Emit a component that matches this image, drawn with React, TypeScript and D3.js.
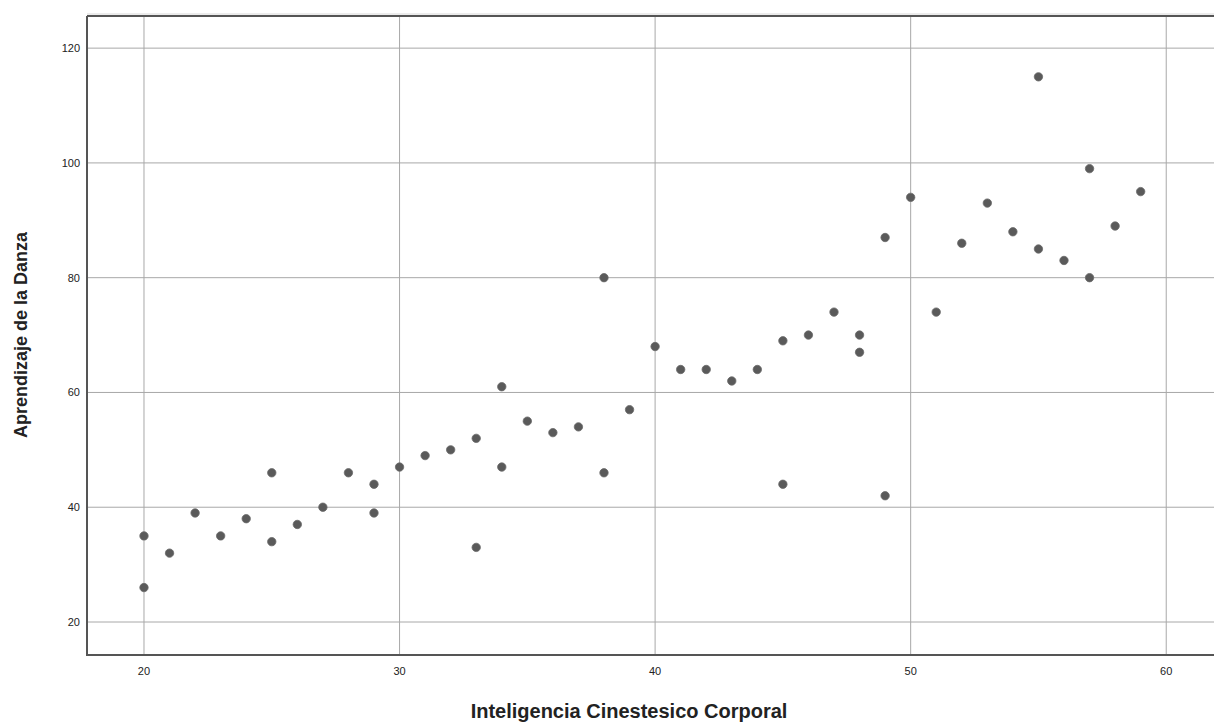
import React from "react";
import * as d3 from "d3";

const xValues = [20, 20, 21, 22, 23, 24, 25, 25, 26, 27, 28, 29, 29, 30, 31, 32, 33, 33, 34, 34, 35, 36, 37, 38, 38, 39, 40, 41, 42, 43, 44, 45, 45, 46, 47, 48, 48, 49, 49, 50, 51, 52, 53, 54, 55, 55, 56, 57, 57, 58, 59];
const yValues = [35, 26, 32, 39, 35, 38, 46, 34, 37, 40, 46, 44, 39, 47, 49, 50, 52, 33, 61, 47, 55, 53, 54, 80, 46, 57, 68, 64, 64, 62, 64, 69, 44, 70, 74, 70, 67, 87, 42, 94, 74, 86, 93, 88, 115, 85, 83, 99, 80, 89, 95];
const xTicks = [20, 30, 40, 50, 60];
const yTicks = [20, 40, 60, 80, 100, 120];
const xTitle = "Inteligencia Cinestesico Corporal";
const yTitle = "Aprendizaje de la Danza";

const W = 1214;
const H = 726;
const left = 87;
const top = 16;
const bottom = 655;
const right = 1225;

export default function App() {
  const x = d3.scaleLinear().domain([17.77, 62.3]).range([left, right]);
  const y = d3.scaleLinear().domain([14.25, 125.6]).range([bottom, top]);
  const font = "'Liberation Sans', Arial, sans-serif";
  return (
    <svg width={W} height={H} style={{ position: "fixed", left: 0, top: 0, background: "#fff" }}>
      <rect x={0} y={0} width={W} height={H} fill="#fff" />
      {xTicks.map((t) => (
        <line key={"gx" + t} x1={x(t)} x2={x(t)} y1={top} y2={bottom} stroke="#a8a8a8" strokeWidth={1} />
      ))}
      {yTicks.map((t) => (
        <line key={"gy" + t} x1={left} x2={W} y1={y(t)} y2={y(t)} stroke="#a8a8a8" strokeWidth={1} />
      ))}
      <line x1={left} x2={W} y1={top - 2} y2={top - 2} stroke="#d8d8d8" strokeWidth={1} />
      <line x1={left} x2={W} y1={top} y2={top} stroke="#555" strokeWidth={2} />
      <line x1={left} x2={W} y1={bottom} y2={bottom} stroke="#555" strokeWidth={2} />
      <line x1={left} x2={left} y1={top} y2={bottom + 1} stroke="#555" strokeWidth={2} />
      {xTicks.map((t) => (
        <text key={"tx" + t} x={x(t)} y={675} textAnchor="middle" fontFamily={font} fontSize={11} fill="#222">
          {t}
        </text>
      ))}
      {yTicks.map((t) => (
        <text key={"ty" + t} x={80} y={y(t) + 4} textAnchor="end" fontFamily={font} fontSize={11} fill="#222">
          {t}
        </text>
      ))}
      {xValues.map((v, i) => (
        <circle key={"p" + i} cx={x(v)} cy={y(yValues[i])} r={4.2} fill="#5a5a5a" stroke="#6a6a6a" strokeWidth={0.8} />
      ))}
      <text x={629} y={718} textAnchor="middle" fontFamily={font} fontSize={20} fontWeight="bold" fill="#222">
        {xTitle}
      </text>
      <text
        transform={`translate(27,335) rotate(-90)`}
        textAnchor="middle"
        fontFamily={font}
        fontSize={18}
        fontWeight="bold"
        fill="#222"
      >
        {yTitle}
      </text>
    </svg>
  );
}
